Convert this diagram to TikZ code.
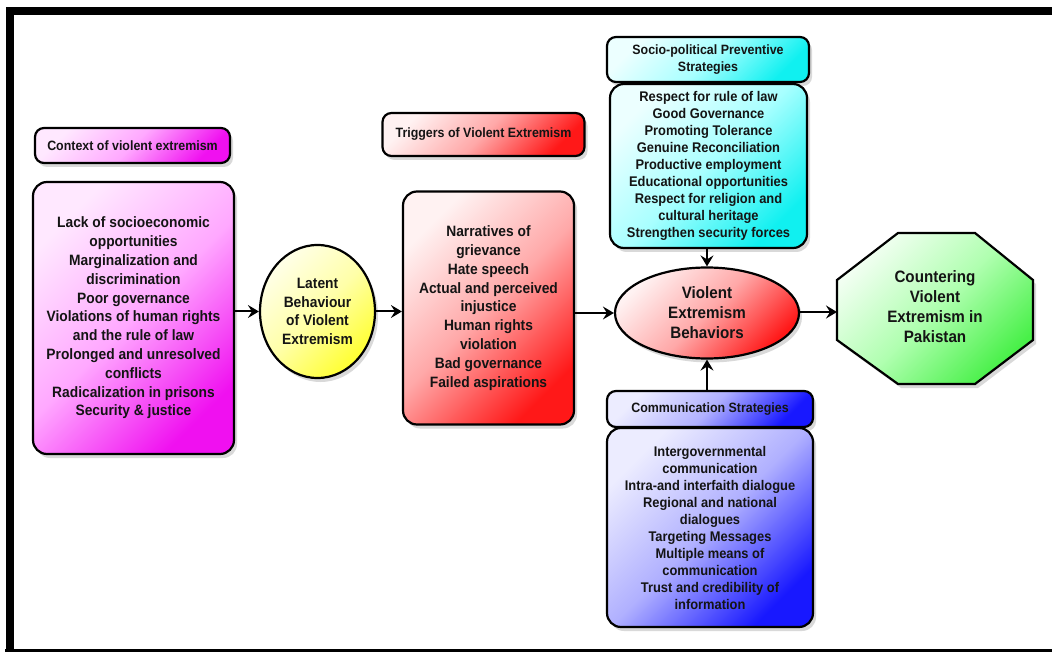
\documentclass[tikz,border=0pt]{standalone}
\usepackage{fontspec}
\setmainfont{Liberation Sans}
\newfontfamily\nf[FakeStretch=0.92]{Liberation Sans}
\usetikzlibrary{arrows.meta,shadows,shapes.geometric}
\definecolor{txt}{HTML}{141414}
\definecolor{magA}{HTML}{FFE8FF}\definecolor{magB}{HTML}{FFA8FF}\definecolor{magC}{HTML}{F010F0}
\definecolor{redA}{HTML}{FFF2F2}\definecolor{redB}{HTML}{FFA8A8}\definecolor{redC}{HTML}{FF1818}
\definecolor{yelA}{HTML}{FFFFE8}\definecolor{yelB}{HTML}{FFFFA8}\definecolor{yelC}{HTML}{FFFF30}
\definecolor{cyaA}{HTML}{ECFFFF}\definecolor{cyaB}{HTML}{A8FFFF}\definecolor{cyaC}{HTML}{10F0F0}
\definecolor{bluA}{HTML}{ECECFF}\definecolor{bluB}{HTML}{B0B0FF}\definecolor{bluC}{HTML}{1818FF}
\definecolor{greA}{HTML}{F2FFF2}\definecolor{greB}{HTML}{B0FFB0}\definecolor{greC}{HTML}{48F048}
\tikzset{
  base/.style={draw=black, line width=2.2pt, text=txt, align=center, inner sep=0pt,
    drop shadow={shadow xshift=3pt, shadow yshift=-4pt, fill=black, opacity=0.15}},
  box/.style={base, rectangle, rounded corners=14pt},
  lab/.style={base, rectangle, rounded corners=9pt},
  oval/.style={base, ellipse},
  big/.style={font=\nf\bfseries\fontsize{15}{18.8}\selectfont},
  mid/.style={font=\nf\bfseries\fontsize{14}{17}\selectfont},
  sml/.style={font=\nf\bfseries\fontsize{13.5}{16.5}\selectfont},
  lrg/.style={font=\nf\bfseries\fontsize{16.5}{20}\selectfont},
  gmag/.style={top color=magA, bottom color=magC, middle color=magB, shading angle=45},
  gred/.style={top color=redA, bottom color=redC, middle color=redB, shading angle=45},
  gyel/.style={top color=yelA, bottom color=yelC, middle color=yelB, shading angle=45},
  gcya/.style={top color=cyaA, bottom color=cyaC, middle color=cyaB, shading angle=45},
  gblu/.style={top color=bluA, bottom color=bluC, middle color=bluB, shading angle=45},
  ggre/.style={top color=greA, bottom color=greC, middle color=greB, shading angle=45},
  arr/.style={line width=2pt, draw=black, -{Stealth[length=11pt, width=13pt, inset=4pt]}}
}
\begin{document}
\begin{tikzpicture}[x=1pt, y=-1pt]
\useasboundingbox (0,0) rectangle (1052,652);
\fill[white] (0,0) rectangle (1052,652);
% frame
\draw[line width=8pt, line join=miter] (9.5,652) -- (9.5,11.5) -- (1052,11.5);
\draw[line width=5pt] (5,651) -- (1052,651);

% context
\node[lab, gmag, sml, minimum width=195pt, minimum height=35pt] (ctxlab) at (132.5,145.5) {Context of violent extremism};
\node[box, gmag, big, minimum width=201pt, minimum height=272pt] (ctx) at (133.5,318)
 {Lack of socioeconomic\\opportunities\\Marginalization and\\discrimination\\Poor governance\\Violations of human rights\\and the rule of law\\Prolonged and unresolved\\conflicts\\Radicalization in prisons\\Security \& justice};

% latent
\node[oval, gyel, big, minimum width=115pt, minimum height=133pt] (latent) at (317.5,311.5)
 {Latent\\Behaviour\\of Violent\\Extremism};

% triggers
\node[lab, gred, sml, minimum width=202pt, minimum height=43pt] (trglab) at (483.5,134.5) {Triggers of Violent Extremism};
\node[box, gred, big, minimum width=171pt, minimum height=233pt] (trg) at (488.5,308)
 {Narratives of\\grievance\\Hate speech\\Actual and perceived\\injustice\\Human rights\\violation\\Bad governance\\Failed aspirations};

% violent extremism behaviors
\node[oval, gred, lrg, minimum width=184pt, minimum height=91pt] (ve) at (707,313)
 {Violent\\Extremism\\Behaviors};

% socio-political
\node[lab, gcya, sml, minimum width=202pt, minimum height=45pt] (soclab) at (708,59.5)
 {Socio-political Preventive\\Strategies};
\node[box, gcya, mid, minimum width=197pt, minimum height=164pt] (soc) at (708.5,166)
 {Respect for rule of law\\Good Governance\\Promoting Tolerance\\Genuine Reconciliation\\Productive employment\\Educational opportunities\\Respect for religion and\\cultural heritage\\Strengthen security forces};

% communication
\node[lab, gblu, sml, minimum width=206pt, minimum height=36pt] (comlab) at (710,409) {Communication Strategies};
\node[box, gblu, mid, minimum width=206pt, minimum height=199pt] (com) at (710,527.5)
 {Intergovernmental\\communication\\Intra-and interfaith dialogue\\Regional and national\\dialogues\\Targeting Messages\\Multiple means of\\communication\\Trust and credibility of\\information};

% octagon
\path[ggre, draw=black, line width=2.2pt, line join=miter,
  drop shadow={shadow xshift=3pt, shadow yshift=-4pt, fill=black, opacity=0.15}]
  (837,280) -- (898,233) -- (975,233) -- (1033,280) -- (1033,340) -- (975,384) -- (898,384) -- (837,340) -- cycle;
\node[lrg, text=txt, align=center] (oct) at (935,307) {Countering\\Violent\\Extremism in\\Pakistan};
\coordinate (octW) at (837,312);

% connectors
\draw[arr] (ctx.east |- latent.west) -- (latent.west);
\draw[arr] (latent.east) -- (latent.east -| trg.west);
\draw[arr] (trg.east |- ve.west) -- (ve.west);
\draw[arr] (ve.east |- octW) -- (octW);
\draw[arr] (soc.south -| ve.north) -- (ve.north);
\draw[arr] (comlab.north -| ve.south) -- (ve.south);
\end{tikzpicture}
\end{document}
